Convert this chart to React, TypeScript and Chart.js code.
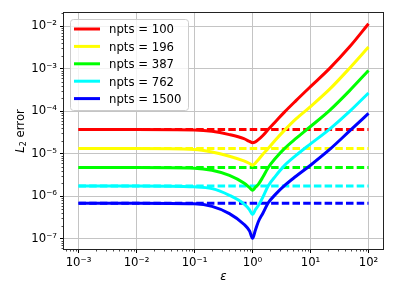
import React, { useEffect, useRef } from 'react';
import { Chart, registerables } from 'chart.js';

Chart.register(...registerables);

// epsilon values (x)
const EPS = [0.001, 0.01, 0.1, 0.2, 0.4, 0.71, 0.89, 1, 1.12, 1.26, 1.51, 1.86, 2.51, 3.55, 5.62, 10, 21.4, 46.8, 100];

// L2 error per npts
const ERR_100 = [3.7e-5, 3.7e-5, 3.63e-5, 3.39e-5, 2.82e-5, 2.26e-5, 1.95e-5, 1.82e-5, 1.91e-5, 2.14e-5, 2.69e-5, 3.7e-5, 5.75e-5, 9.55e-5, 1.78e-4, 3.8e-4, 1.02e-3, 3.24e-3, 1.15e-2];
const ERR_196 = [1.32e-5, 1.32e-5, 1.26e-5, 1.10e-5, 8.71e-6, 6.76e-6, 5.89e-6, 5.37e-6, 6.03e-6, 7.24e-6, 9.77e-6, 1.32e-5, 2.14e-5, 3.55e-5, 6.61e-5, 1.29e-4, 3.31e-4, 1.02e-3, 3.24e-3];
const ERR_387 = [4.73e-6, 4.73e-6, 4.57e-6, 4.07e-6, 3.09e-6, 2.04e-6, 1.585e-6, 1.38e-6, 1.62e-6, 1.905e-6, 2.82e-6, 4.68e-6, 7.94e-6, 1.32e-5, 2.29e-5, 4.37e-5, 1.05e-4, 3.02e-4, 9.12e-4];
const ERR_762 = [1.74e-6, 1.74e-6, 1.66e-6, 1.51e-6, 1.05e-6, 6.61e-7, 4.79e-7, 3.72e-7, 4.79e-7, 6.03e-7, 9.55e-7, 1.74e-6, 3.02e-6, 5.25e-6, 9.12e-6, 1.70e-5, 3.80e-5, 9.77e-5, 2.69e-4];
const ERR_1500 = [6.84e-7, 6.84e-7, 6.61e-7, 5.75e-7, 3.89e-7, 2.19e-7, 1.51e-7, 1.02e-7, 1.585e-7, 2.51e-7, 3.98e-7, 6.92e-7, 1.12e-6, 1.78e-6, 2.95e-6, 5.37e-6, 1.26e-5, 3.39e-5, 8.91e-5];

// horizontal dashed reference levels
const BASELINE = [3.7e-5, 1.32e-5, 4.73e-6, 1.74e-6, 6.84e-7];
const BASE_X = [0.001, 100];

const NPTS = ['100', '196', '387', '762', '1500'];
const SERIES = [ERR_100, ERR_196, ERR_387, ERR_762, ERR_1500];
const COLORS = ['#ff0000', '#ffff00', '#00ff00', '#00ffff', '#0000ff'];

const X_TICKS = [1e-3, 1e-2, 1e-1, 1, 10, 100];
const Y_TICKS = [1e-7, 1e-6, 1e-5, 1e-4, 1e-3, 1e-2];

const X_MIN = 5.623e-4;
const X_MAX = 177.8;
const Y_MIN = 5.72e-8;
const Y_MAX = 2.054e-2;

const FONT = 'DejaVu Sans';
const FS = 11.7;

const SUP: Record<string, string> = {
  '-': '\u207B', '0': '\u2070', '1': '\u00B9', '2': '\u00B2', '3': '\u00B3',
  '4': '\u2074', '5': '\u2075', '6': '\u2076', '7': '\u2077', '8': '\u2078', '9': '\u2079',
};
const powLabel = (v: number) => {
  const e = String(Math.round(Math.log10(v)));
  return '10' + e.split('').map((c) => SUP[c] || c).join('');
};

const decor = {
  id: 'decor',
  afterDraw(chart: any) {
    const { ctx, chartArea: a, scales } = chart;
    const xs = scales.x;
    const ys = scales.y;
    ctx.save();
    // minor ticks
    ctx.strokeStyle = '#000';
    ctx.lineWidth = 0.7;
    for (let k = -8; k <= 3; k++) {
      for (let m = 2; m <= 9; m++) {
        const v = m * Math.pow(10, k);
        if (v > X_MIN && v < X_MAX) {
          const px = Math.round(xs.getPixelForValue(v)) + 0.5;
          ctx.beginPath();
          ctx.moveTo(px, a.bottom);
          ctx.lineTo(px, a.bottom + 2.5);
          ctx.stroke();
        }
        if (v > Y_MIN && v < Y_MAX) {
          const py = Math.round(ys.getPixelForValue(v)) + 0.5;
          ctx.beginPath();
          ctx.moveTo(a.left, py);
          ctx.lineTo(a.left - 2.5, py);
          ctx.stroke();
        }
      }
    }
    // frame
    ctx.strokeStyle = '#222';
    ctx.lineWidth = 1;
    ctx.strokeRect(a.left - 0.5, a.top - 0.5, a.right - a.left + 1, a.bottom - a.top + 1);

    // x title
    ctx.fillStyle = '#000';
    ctx.font = `italic ${FS}px "${FONT}"`;
    ctx.textAlign = 'center';
    ctx.textBaseline = 'alphabetic';
    ctx.fillText('\u03B5', (a.left + a.right) / 2, 279.5);

    // y title
    ctx.save();
    ctx.translate(23.5, (a.top + a.bottom) / 2);
    ctx.rotate(-Math.PI / 2);
    ctx.textAlign = 'left';
    const fItal = `italic ${FS}px "${FONT}"`;
    const fSub = `${FS * 0.7}px "${FONT}"`;
    const fNorm = `${FS}px "${FONT}"`;
    ctx.font = fItal; const w1 = ctx.measureText('L').width;
    ctx.font = fSub; const w2 = ctx.measureText('2').width;
    ctx.font = fNorm; const w3 = ctx.measureText(' error').width;
    let x0 = -(w1 + w2 + w3) / 2;
    ctx.font = fItal; ctx.fillText('L', x0, 0); x0 += w1;
    ctx.font = fSub; ctx.fillText('2', x0, 2.5); x0 += w2;
    ctx.font = fNorm; ctx.fillText(' error', x0, 0);
    ctx.restore();

    // legend
    const lx = 70.5, ly = 19.5, lw = 118, lh = 91;
    ctx.beginPath();
    if (ctx.roundRect) ctx.roundRect(lx, ly, lw, lh, 3); else ctx.rect(lx, ly, lw, lh);
    ctx.fillStyle = 'rgba(255,255,255,0.8)';
    ctx.fill();
    ctx.strokeStyle = '#cccccc';
    ctx.lineWidth = 1;
    ctx.stroke();
    ctx.font = fNorm;
    ctx.textAlign = 'left';
    ctx.textBaseline = 'alphabetic';
    NPTS.forEach((n, i) => {
      const yc = 29 + i * 17.4;
      ctx.strokeStyle = COLORS[i];
      ctx.lineWidth = 3;
      ctx.beginPath();
      ctx.moveTo(74, yc);
      ctx.lineTo(100, yc);
      ctx.stroke();
      ctx.fillStyle = '#000';
      ctx.fillText('npts = ' + n, 109, yc + 4.3);
    });
    ctx.restore();
  },
};

export default function App() {
  const ref = useRef<HTMLCanvasElement | null>(null);
  useEffect(() => {
    const canvas = ref.current;
    if (!canvas) return;
    const solid = SERIES.map((s, i) => ({
      label: 'npts = ' + NPTS[i],
      data: EPS.map((x, j) => ({ x, y: s[j] })),
      borderColor: COLORS[i],
      backgroundColor: COLORS[i],
      borderWidth: 3,
      pointRadius: 0,
      cubicInterpolationMode: 'monotone' as const,
      fill: false,
    }));
    const dashed = BASELINE.map((b, i) => ({
      label: 'ref ' + NPTS[i],
      data: BASE_X.map((x) => ({ x, y: b })),
      borderColor: COLORS[i],
      backgroundColor: COLORS[i],
      borderWidth: 3,
      borderDash: [7.5, 3.2],
      pointRadius: 0,
      fill: false,
    }));
    const tickFont = { family: FONT, size: FS };
    const chart = new Chart(canvas, {
      type: 'line',
      data: { datasets: [...solid, ...dashed] as any },
      options: {
        animation: false,
        responsive: false,
        maintainAspectRatio: false,
        devicePixelRatio: 1,
        layout: { padding: { top: 13, right: 13, left: 0, bottom: 0 } },
        plugins: { legend: { display: false }, tooltip: { enabled: false }, title: { display: false } },
        scales: {
          x: {
            type: 'logarithmic',
            bounds: 'data',
            min: X_MIN,
            max: X_MAX,
            afterBuildTicks: (s: any) => { s.ticks = X_TICKS.map((v) => ({ value: v })); },
            afterFit: (s: any) => { s.height = 48; },
            ticks: {
              autoSkip: false, maxRotation: 0, padding: 3, color: '#000', font: tickFont,
              callback: (v: any) => powLabel(Number(v)),
            },
            grid: { color: '#c4c4c4', lineWidth: 1, drawTicks: true, tickLength: 4, tickColor: '#000', tickWidth: 1 },
            border: { display: false },
          },
          y: {
            type: 'logarithmic',
            bounds: 'data',
            min: Y_MIN,
            max: Y_MAX,
            afterBuildTicks: (s: any) => { s.ticks = Y_TICKS.map((v) => ({ value: v })); },
            afterFit: (s: any) => { s.width = 64; },
            ticks: {
              autoSkip: false, padding: 3, color: '#000', font: tickFont,
              callback: (v: any) => powLabel(Number(v)),
            },
            grid: { color: '#c4c4c4', lineWidth: 1, drawTicks: true, tickLength: 4, tickColor: '#000', tickWidth: 1 },
            border: { display: false },
          },
        },
      } as any,
      plugins: [decor],
    });
    return () => chart.destroy();
  }, []);
  return (
    <div style={{ position: 'absolute', left: 0, top: 0, width: 396, height: 297, background: '#fff' }}>
      <canvas ref={ref} width={396} height={297} style={{ display: 'block', width: 396, height: 297 }} />
    </div>
  );
}
